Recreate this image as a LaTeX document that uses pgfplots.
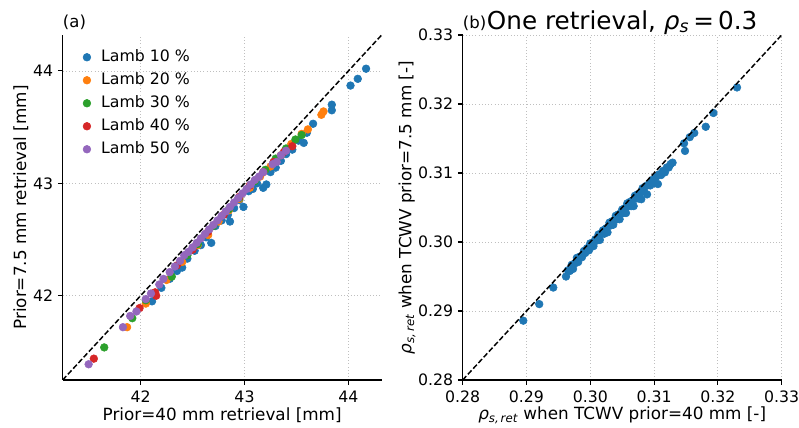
\documentclass[border=0pt]{standalone}
\usepackage{fontspec}
\setmainfont{DejaVu Sans}
\usepackage{pgfplots}
\pgfplotsset{compat=1.18}

\definecolor{tabblue}{HTML}{1F77B4}
\definecolor{taborange}{HTML}{FF7F0E}
\definecolor{tabgreen}{HTML}{2CA02C}
\definecolor{tabred}{HTML}{D62728}
\definecolor{tabpurple}{HTML}{9467BD}

\newcommand{\fs}{\fontsize{11.8}{14}\selectfont}
\newcommand{\fl}{\fontsize{12.6}{15}\selectfont}
\newcommand{\fp}{\fontsize{12.4}{15}\selectfont}

\pgfplotsset{
  panel/.style={
    scale only axis, width=239.25pt, height=258.75pt,
    clip mode=individual,
    axis x line*=bottom, axis y line*=left,
    axis line style={line width=0.8pt, black},
    tick align=outside, major tick length=3.6pt,
    tick style={line width=0.8pt, black},
    grid=major, major grid style={dotted, gray!50, line width=0.6pt},
    ticklabel style={font=\fs},
    xticklabel style={yshift=-0.8pt},
    label style={font=\fl},
    /pgf/number format/assume math mode=true,
    xlabel style={at={(axis description cs:0.5,-0.1014)}, anchor=center, inner sep=0pt},
  },
  dot/.style={only marks, color=#1, mark=*, mark size=2.9pt,
    mark options={solid, draw=#1, fill=#1, line width=0.4pt}},
}

\begin{document}
\begin{tikzpicture}

% (a) seasonal retrievals, five Lambertian albedos
\begin{axis}[panel, at={(0pt,0pt)}, anchor=south west,
  xmin=41.25, xmax=44.32, ymin=41.25, ymax=44.32,
  xtick={42,43,44}, ytick={42,43,44},
  xlabel={Prior=40 mm retrieval [mm]},
  ylabel={Prior=7.5 mm retrieval [mm]},
  ylabel style={at={(axis description cs:-0.1307,0.5)}, anchor=center},
  legend cell align=left,
  legend image code/.code={\draw plot coordinates {(0pt,0pt)};},
  legend style={draw=none, fill=none, at={(rel axis cs:0,1)}, anchor=north west,
    xshift=15.1pt, yshift=-10.5pt, inner sep=0pt, font=\fs,
    nodes={inner sep=0pt, text height=9pt, text depth=3pt}, row sep=5.25pt,
    /tikz/every odd column/.append style={column sep=7.8pt}},
]
\addplot[dot=tabblue] coordinates {
(42.11,41.95) (42.20,42.07) (42.28,42.15) (42.35,42.22) (42.40,42.25)
(42.45,42.33) (42.52,42.40) (42.58,42.45) (42.63,42.52) (42.68,42.47)
(42.72,42.62) (42.78,42.67) (42.84,42.72) (42.86,42.66) (42.90,42.78)
(42.95,42.85) (42.99,42.79) (43.04,42.93) (43.08,42.95) (43.12,43.00)
(43.18,42.96) (43.21,42.99) (43.25,43.10) (43.30,43.14) (43.35,43.20)
(43.40,43.26) (43.46,43.30) (43.52,43.38) (43.57,43.36) (43.60,43.45)
(43.66,43.53) (43.84,43.65) (43.84,43.70) (44.02,43.87) (44.09,43.93)
(44.17,44.02)};
\addlegendentry{Lamb 10 \%}
\addplot[dot=taborange] coordinates {
(41.87,41.72) (42.05,41.93) (42.25,42.14) (42.40,42.30) (42.55,42.45)
(42.65,42.54) (42.75,42.66) (42.85,42.76) (42.95,42.86) (43.05,42.96)
(43.15,43.06) (43.25,43.15) (43.35,43.25) (43.45,43.35) (43.55,43.44)
(43.61,43.48) (43.74,43.61) (43.76,43.64)};
\addlegendentry{Lamb 20 \%}
\addplot[dot=tabgreen] coordinates {
(41.65,41.54) (41.92,41.80) (42.05,41.96) (42.30,42.17) (42.45,42.36)
(42.55,42.46) (42.70,42.62) (42.85,42.77) (42.95,42.87) (43.10,43.02)
(43.20,43.12) (43.30,43.22) (43.40,43.31) (43.49,43.39) (43.55,43.43)};
\addlegendentry{Lamb 30 \%}
\addplot[dot=tabred] coordinates {
(41.55,41.44) (41.99,41.89) (42.14,42.03) (42.15,42.00) (42.35,42.27)
(42.50,42.41) (42.65,42.57) (42.80,42.72) (42.95,42.88) (43.05,42.98)
(43.18,43.10) (43.28,43.19) (43.38,43.28) (43.46,43.33)};
\addlegendentry{Lamb 40 \%}
\addplot[dot=tabpurple] coordinates {
(41.50,41.39) (41.83,41.72) (41.90,41.82) (41.96,41.86) (42.05,41.97)
(42.10,42.02) (42.18,42.10) (42.22,42.15) (42.28,42.21) (42.33,42.26)
(42.38,42.31) (42.42,42.36) (42.46,42.39) (42.50,42.43) (42.54,42.47)
(42.58,42.51) (42.62,42.55) (42.66,42.59) (42.70,42.63) (42.74,42.67)
(42.78,42.71) (42.82,42.75) (42.86,42.79) (42.90,42.83) (42.94,42.87)
(42.98,42.91) (43.02,42.95) (43.06,42.99) (43.10,43.03) (43.14,43.06)
(43.18,43.10) (43.27,43.17) (43.31,43.19) (43.35,43.25) (43.40,43.29)};
\addlegendentry{Lamb 50 \%}
\addplot[black, line width=1.1pt, dash pattern=on 4pt off 1.8pt, forget plot]
  coordinates {(41.25,41.25) (44.32,44.32)};
\node[anchor=base west, font=\fp, inner sep=0pt] at ([yshift=5.25pt]rel axis cs:0,1) {(a)};
\end{axis}

% (b) single retrieval of the surface albedo
\begin{axis}[panel, at={(300pt,0pt)}, anchor=south west,
  xmin=0.28, xmax=0.33, ymin=0.28, ymax=0.33,
  xtick={0.28,0.29,0.30,0.31,0.32,0.33}, ytick={0.28,0.29,0.30,0.31,0.32,0.33},
  /pgf/number format/.cd, fixed, fixed zerofill, precision=2, /pgfplots/.cd,
  xlabel={{\itshape ρ}\textsubscript{\itshape s,\,ret} when TCWV prior=40 mm [-]},
  ylabel={{\itshape ρ}\textsubscript{\itshape s,\,ret} when TCWV prior=7.5 mm [-]},
  ylabel style={at={(axis description cs:-0.1746,0.5)}, anchor=center},
]
\addplot[dot=tabblue] coordinates {
(0.2895,0.2886) (0.2920,0.2910) (0.2942,0.2934)
(0.2962,0.2950) (0.2965,0.2959) (0.2968,0.2958) (0.2971,0.2967) (0.2973,0.2961)
(0.2976,0.2969) (0.2979,0.2977) (0.2981,0.2971) (0.2984,0.2979) (0.2987,0.2978)
(0.2990,0.2987) (0.2992,0.2984) (0.2995,0.2991) (0.2998,0.2988) (0.3000,0.2998)
(0.3003,0.2996) (0.3005,0.2994) (0.3008,0.3004) (0.3010,0.3002) (0.3013,0.3011)
(0.3015,0.3003) (0.3018,0.3012) (0.3020,0.3017) (0.3022,0.3012) (0.3025,0.3020)
(0.3027,0.3014) (0.3030,0.3028) (0.3032,0.3024) (0.3034,0.3030) (0.3036,0.3025)
(0.3038,0.3032) (0.3040,0.3038) (0.3042,0.3033) (0.3044,0.3040) (0.3046,0.3033)
(0.3048,0.3041) (0.3050,0.3047) (0.3052,0.3042) (0.3054,0.3049) (0.3056,0.3042)
(0.3058,0.3056) (0.3060,0.3052) (0.3062,0.3058) (0.3064,0.3052) (0.3066,0.3060)
(0.3068,0.3052) (0.3070,0.3067) (0.3072,0.3063) (0.3074,0.3069) (0.3076,0.3063)
(0.3078,0.3071) (0.3080,0.3062) (0.3082,0.3078) (0.3084,0.3074) (0.3087,0.3081)
(0.3089,0.3069) (0.3091,0.3083) (0.3094,0.3082) (0.3097,0.3090) (0.3100,0.3085)
(0.3103,0.3094) (0.3106,0.3084) (0.3108,0.3098) (0.3111,0.3097) (0.3114,0.3103)
(0.3117,0.3101) (0.3120,0.3108) (0.3123,0.3108) (0.3126,0.3113) (0.3129,0.3115)
(0.3147,0.3143) (0.31485,0.3132) (0.3156,0.3152) (0.3163,0.3158) (0.3181,0.3167)
(0.3193,0.3187) (0.3230,0.3224)};
\addplot[black, line width=1.1pt, dash pattern=on 4pt off 1.8pt]
  coordinates {(0.28,0.28) (0.33,0.33)};
\node[anchor=base west, font=\fp, inner sep=0pt] at ([yshift=5.25pt]rel axis cs:0,1) {(b)};
\node[anchor=base, font=\fontsize{18.5}{22}\selectfont, inner sep=0pt]
  at ([yshift=4.5pt]rel axis cs:0.5,1) {One retrieval, {\itshape ρ}\textsubscript{\itshape s}\,=\,0.3};
\end{axis}

\pgfresetboundingbox
\useasboundingbox (-47pt,-36pt) rectangle (552.25pt,285pt);
\end{tikzpicture}
\end{document}
